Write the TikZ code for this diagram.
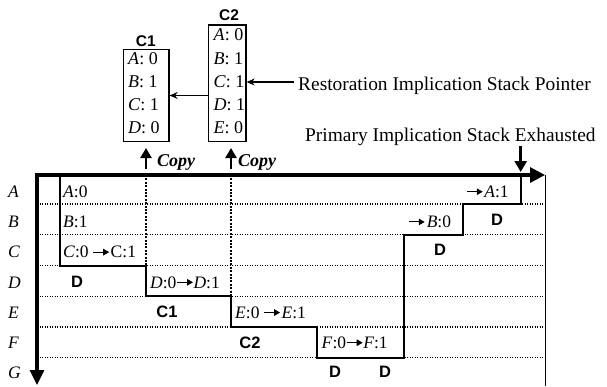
\documentclass[tikz,border=0pt]{standalone}
\usepackage{fontspec}
\setmainfont{Liberation Serif}
\newfontfamily\arialfont{Liberation Sans}
\usetikzlibrary{arrows.meta}

\newcommand{\arr}{\tikz[baseline=-0.33em]\draw[line width=1.1pt,-{Triangle[length=6pt,width=6.5pt]}] (0pt,0pt) -- (16pt,0pt);}
\newcommand{\val}[2]{\textit{#1}: #2}

\begin{document}
\begin{tikzpicture}[x=1pt,y=-1pt,
    txt/.style={inner sep=0pt,anchor=base west,font=\fontsize{17.5}{20}\selectfont},
    boxtxt/.style={inner sep=0pt,anchor=base west,font=\fontsize{18}{20}\selectfont},
    head/.style={inner sep=0pt,anchor=base west,font=\fontsize{19.4}{22}\selectfont},
    bold/.style={inner sep=0pt,font=\arialfont\bfseries\fontsize{16.5}{18}\selectfont},
    title/.style={inner sep=0pt,font=\arialfont\bfseries\fontsize{15.5}{17}\selectfont},
    copytxt/.style={inner sep=0pt,anchor=base west,font=\bfseries\itshape\fontsize{18}{20}\selectfont},
    axis/.style={line width=3.2pt,arrows={Triangle[length=15pt,width=14pt]-Triangle[length=15pt,width=15pt]}},
    stair/.style={line width=2pt},
    rowline/.style={line width=1.3pt,dash pattern=on 1.2pt off 1.3pt},
    colline/.style={line width=2pt,dash pattern=on 2pt off 1.4pt},
    cbox/.style={draw,line width=1.3pt,inner sep=0pt},
    ptr/.style={line width=1.1pt,-{Stealth[length=8pt,width=7pt]}},
    bigup/.style={line width=2.8pt,-{Triangle[length=10pt,width=11pt]}}]
    \useasboundingbox (0,0) rectangle (607,386);
    % rows and copy columns
    \foreach \y in {204,234.75,265.5,296.25,327,357.75}
        \draw[rowline] (37,\y) -- (545,\y);
    \draw[colline] (145.7,175) -- (145.7,265.5);
    \draw[colline] (231,175) -- (231,296.25);
    % implication stack
    \draw[stair] (60,175) |- (145.7,265.5) |- (231,296.25) |- (317.3,327) |- (404,357.75)
        |- (463.3,234.75) |- (521,204) -- (521,175);
    % axes
    \coordinate (O) at (37,175);
    \coordinate (xend) at (545,175);
    \coordinate (yend) at (37,385);
    \coordinate (rbot) at (545,386);
    \draw[line width=1pt] (xend) -- (rbot);
    \draw[axis] (yend) -- (O) -- (xend);
    \foreach \r [count=\i from 0] in {A,B,C,D,E,F,G}
        \node[txt] (row\r) at (8,{197.5+30.2*\i}) {\textit{\r}};
    % cells
    \node[txt] (cellA) at (63,197.5) {\textit{A}:0};
    \node[txt] (cellB) at (63,227.7) {\textit{B}:1};
    \node[txt] (cellC) at (63,257.9) {\textit{C}:0\kern4pt\arr\kern1pt C:1};
    \node[txt] (cellD) at (150,288.1) {\textit{D}:0\arr\textit{D}:1};
    \node[txt] (cellE) at (235,318.3) {\textit{E}:0\kern4pt\arr\kern1pt\textit{E}:1};
    \node[txt] (cellF) at (321.5,348.5) {\textit{F}:0\arr\textit{F}:1};
    \node[txt] (cellBb) at (408,227.7) {\arr\kern1.5pt\textit{B}:0};
    \node[txt] (cellAb) at (466,197.5) {\arr\kern1pt\textit{A}:1};
    \node[bold] (decC) at (77,281.7) {D};
    \node[bold] (decD) at (167,311.7) {C1};
    \node[bold] (decE) at (250,342.5) {C2};
    \node[bold] (decF) at (335,371.6) {D};
    \node[bold] (decFb) at (385,371.6) {D};
    \node[bold] (decB) at (440,250) {D};
    \node[bold] (decA) at (497,220) {D};
    % checkpoints
    \node[cbox,minimum width=45.7,minimum height=92.4] (ckpt1) at (146.15,95.5) {};
    \node[cbox,minimum width=37.7,minimum height=116.7] (ckpt2) at (227.15,83.35) {};
    \node[title] (ckpt1t) at (145.8,41.3) {C1};
    \node[title] (ckpt2t) at (229,14.7) {C2};
    \foreach \v/\n [count=\i from 0] in {A/0,B/1,C/1,D/0}
        \node[boxtxt] (ckpt1\v) at (128,{64+23.3*\i}) {\val{\v}{\n}};
    \foreach \v/\n [count=\i from 0] in {A/0,B/1,C/1,D/1,E/0}
        \node[boxtxt] (ckpt2\v) at (213.5,{40.7+23.3*\i}) {\val{\v}{\n}};
    \draw[ptr] (ckpt2.west |- ckpt1.east) -- (ckpt1.east);
    \node[head] (rsptxt) at (298,90.7) {Restoration Implication Stack Pointer};
    \coordinate (rsp) at (294,82);
    \draw[ptr] (rsp) -- (rsp -| ckpt2.east);
    \node[head] (pise) at (305,141.7) {Primary Implication Stack Exhausted};
    \coordinate (pisb) at (520.7,172);
    \draw[line width=3pt,-{Triangle[length=11pt,width=12pt]}] (pisb |- pise.south) -- (pisb);
    % copy marks
    \coordinate (cp1a) at (146,169);
    \coordinate (cp1b) at (146,148);
    \coordinate (cp2a) at (231,169);
    \coordinate (cp2b) at (231,148);
    \draw[bigup] (cp1a) -- (cp1b);
    \draw[bigup] (cp2a) -- (cp2b);
    \node[copytxt] (cpy1) at (157,166.7) {Copy};
    \node[copytxt] (cpy2) at (238,166.7) {Copy};
\end{tikzpicture}
\end{document}
